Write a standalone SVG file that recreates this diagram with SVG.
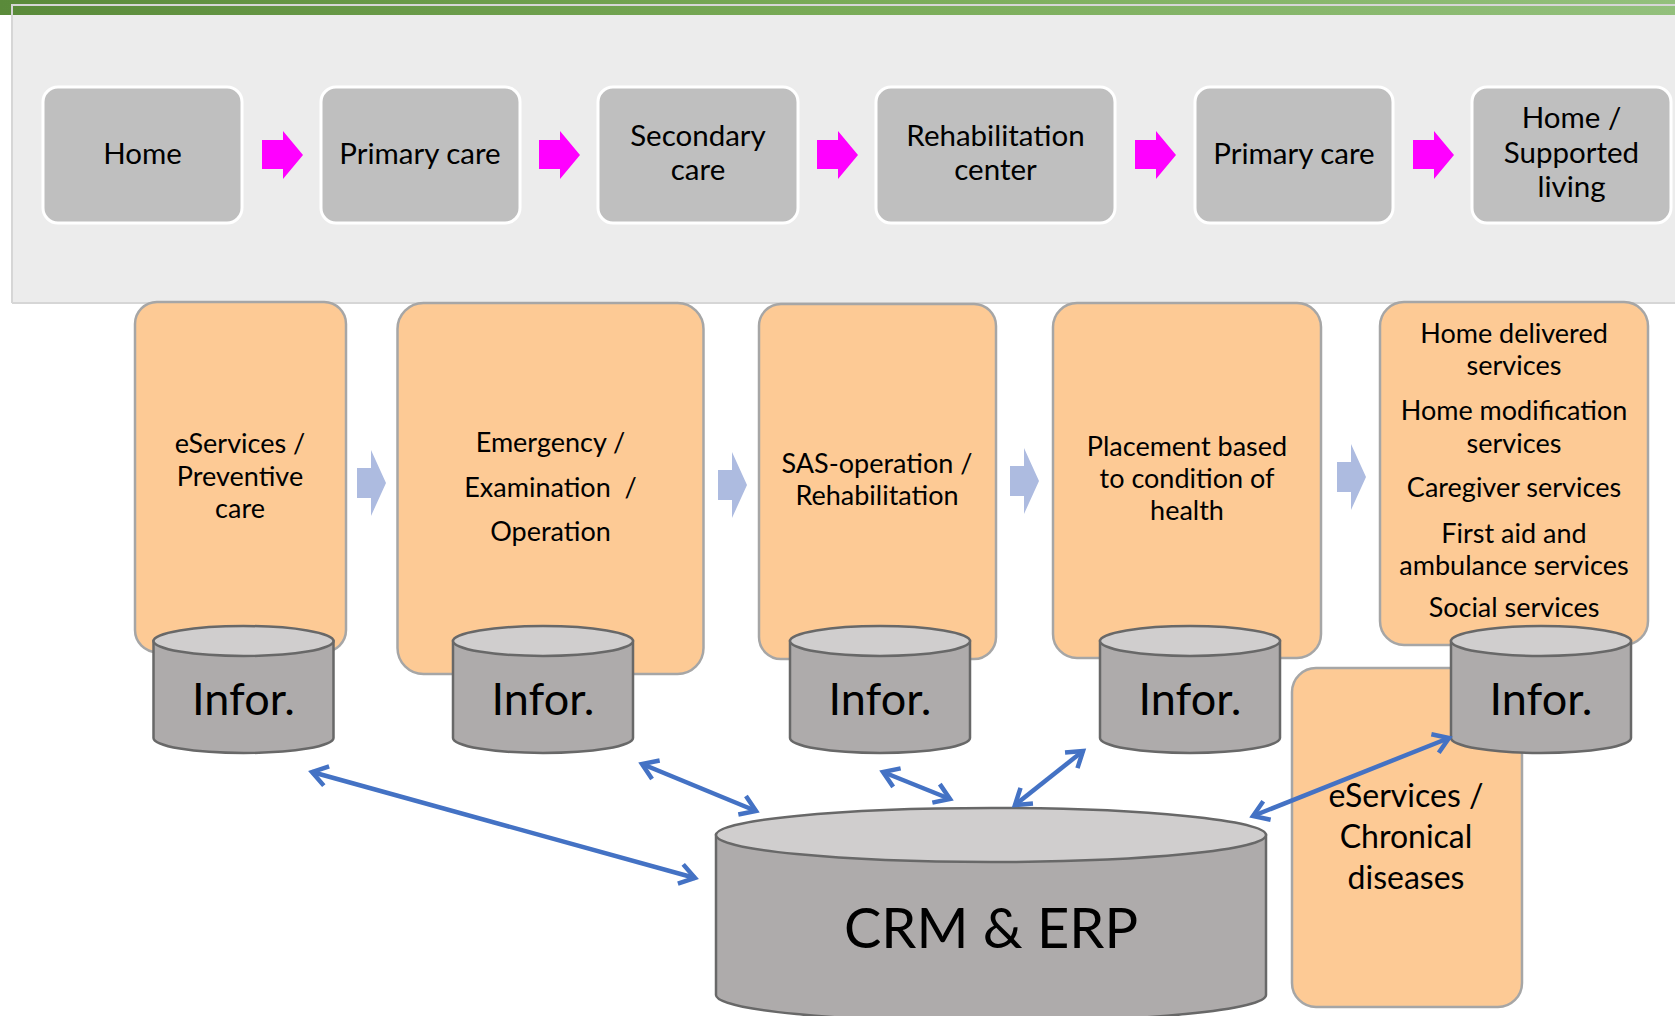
<svg xmlns="http://www.w3.org/2000/svg" xmlns:xlink="http://www.w3.org/1999/xlink" width="1675" height="1016" viewBox="0 0 1675 1016">
  <defs>
    <linearGradient id="band" x1="0" y1="0" x2="1" y2="0">
      <stop offset="0" stop-color="#5a8a3a"/>
      <stop offset="0.5" stop-color="#79ab57"/>
      <stop offset="1" stop-color="#93c07c"/>
    </linearGradient>
    <marker id="open" viewBox="0 0 26 26" markerWidth="26" markerHeight="26" refX="20" refY="13" orient="auto-start-reverse" markerUnits="userSpaceOnUse">
      <path d="M5,3 L20,13 L5,23" fill="none" stroke="#4472c4" stroke-width="4.5" stroke-linejoin="miter"/>
    </marker>
    <!-- small database cylinder, centred on x=0 -->
    <g id="cyl">
      <path class="cylBody" d="M-90,641 V738 A90,15 0 0 0 90,738 V641 Z"/>
      <ellipse class="cylTop" cx="0" cy="641" rx="90" ry="15"/>
    </g>
    <!-- step arrows -->
    <path id="stepArrow" d="M0,140 H21 V131 L41,155 L21,179 V169 H0 Z"/>
    <path id="flowArrow" d="M0,-15 H14 V-33 L29,0 L14,33 V15 H0 Z"/>
  </defs>
  <style>
    .txt { font-family: Lato, "Open Sans", "Liberation Sans", sans-serif; fill: #000; text-anchor: middle; }
    .stage rect { fill: #bfbfbf; stroke: #ffffff; stroke-width: 3; }
    .stage text { font-size: 29.5px; }
    .area rect { fill: #fdca95; stroke: #a6a6a6; stroke-width: 2.5; }
    .area text { font-size: 27px; }
    .cylBody { fill: #aeabab; stroke: #686868; stroke-width: 2.5; }
    .cylTop { fill: #d0cece; stroke: #686868; stroke-width: 2.5; }
    .db text { font-size: 45px; }
    .step { fill: #ff00ff; }
    .flow { fill: #adbbe0; }
    .link { fill: none; stroke: #4472c4; stroke-width: 4.5; marker-start: url(#open); marker-end: url(#open); }
  </style>

  <!-- header band and background panel -->
  <rect x="0" y="0" width="1675" height="15" fill="url(#band)"/>
  <rect x="12" y="15" width="1670" height="288" fill="#ececec"/>
  <path d="M12,303 V5 H1675 M12,303 H1675" fill="none" stroke="#d6d6d6" stroke-width="2"/>

  <!-- care path stages -->
  <g id="stage-home" class="stage">
    <rect x="43" y="87" width="199" height="136" rx="15"/>
    <text class="txt" x="142.5" y="164">Home</text>
  </g>
  <g id="stage-primary-1" class="stage">
    <rect x="321" y="87" width="199" height="136" rx="15"/>
    <text class="txt" x="420" y="164">Primary care</text>
  </g>
  <g id="stage-secondary" class="stage">
    <rect x="598" y="87" width="200" height="136" rx="15"/>
    <text class="txt" x="698" y="146">Secondary</text>
    <text class="txt" x="698" y="180">care</text>
  </g>
  <g id="stage-rehab" class="stage">
    <rect x="876" y="87" width="239" height="136" rx="15"/>
    <text class="txt" x="995.5" y="146">Rehabilitation</text>
    <text class="txt" x="995.5" y="180">center</text>
  </g>
  <g id="stage-primary-2" class="stage">
    <rect x="1195" y="87" width="198" height="136" rx="15"/>
    <text class="txt" x="1294" y="164">Primary care</text>
  </g>
  <g id="stage-home-supported" class="stage">
    <rect x="1472" y="87" width="199" height="136" rx="15"/>
    <text class="txt" x="1571.5" y="128">Home /</text>
    <text class="txt" x="1571.5" y="163">Supported</text>
    <text class="txt" x="1571.5" y="197">living</text>
  </g>

  <g id="step-arrows" class="step">
    <use href="#stepArrow" x="262"/>
    <use href="#stepArrow" x="539"/>
    <use href="#stepArrow" x="817"/>
    <use href="#stepArrow" x="1135"/>
    <use href="#stepArrow" x="1413"/>
  </g>

  <!-- service areas -->
  <g id="area-preventive" class="area">
    <rect x="135" y="302" width="211" height="350" rx="22"/>
    <text class="txt" x="240" y="453">eServices /</text>
    <text class="txt" x="240" y="485.5">Preventive</text>
    <text class="txt" x="240" y="518">care</text>
  </g>
  <g id="area-emergency" class="area">
    <rect x="397.5" y="303" width="306" height="371" rx="26"/>
    <text class="txt" x="550.5" y="452">Emergency /</text>
    <text class="txt" x="550.5" y="497" xml:space="preserve">Examination  /</text>
    <text class="txt" x="550.5" y="541">Operation</text>
  </g>
  <g id="area-rehab" class="area">
    <rect x="759" y="304" width="237" height="355" rx="22"/>
    <text class="txt" x="877" y="473">SAS-operation /</text>
    <text class="txt" x="877" y="505">Rehabilitation</text>
  </g>
  <g id="area-placement" class="area">
    <rect x="1053" y="303" width="268" height="355" rx="24"/>
    <text class="txt" x="1187" y="456">Placement based</text>
    <text class="txt" x="1187" y="488">to condition of</text>
    <text class="txt" x="1187" y="520">health</text>
  </g>
  <g id="area-home-services" class="area">
    <rect x="1380" y="302" width="268" height="343" rx="24"/>
    <text class="txt" x="1514" y="343">Home delivered</text>
    <text class="txt" x="1514" y="375">services</text>
    <text class="txt" x="1514" y="420">Home modification</text>
    <text class="txt" x="1514" y="453">services</text>
    <text class="txt" x="1514" y="497">Caregiver services</text>
    <text class="txt" x="1514" y="543">First aid and</text>
    <text class="txt" x="1514" y="575">ambulance services</text>
    <text class="txt" x="1514" y="617">Social services</text>
  </g>
  <g id="area-chronical" class="area">
    <rect x="1292" y="668" width="230" height="339" rx="24"/>
    <text class="txt" x="1406" y="807" style="font-size:32px">eServices /</text>
    <text class="txt" x="1406" y="848" style="font-size:32px">Chronical</text>
    <text class="txt" x="1406" y="889" style="font-size:32px">diseases</text>
  </g>

  <g id="flow-arrows" class="flow">
    <use href="#flowArrow" x="357" y="483"/>
    <use href="#flowArrow" x="718" y="485"/>
    <use href="#flowArrow" x="1010" y="481"/>
    <use href="#flowArrow" x="1337" y="477"/>
  </g>

  <!-- information stores -->
  <g id="db-1" class="db">
    <use href="#cyl" x="243.5"/>
    <text class="txt" x="243.5" y="715">Infor.</text>
  </g>
  <g id="db-2" class="db">
    <use href="#cyl" x="543"/>
    <text class="txt" x="543" y="715">Infor.</text>
  </g>
  <g id="db-3" class="db">
    <use href="#cyl" x="880"/>
    <text class="txt" x="880" y="715">Infor.</text>
  </g>
  <g id="db-4" class="db">
    <use href="#cyl" x="1190"/>
    <text class="txt" x="1190" y="715">Infor.</text>
  </g>
  <g id="db-5" class="db">
    <use href="#cyl" x="1541"/>
    <text class="txt" x="1541" y="715">Infor.</text>
  </g>

  <!-- central system -->
  <g id="db-crm-erp">
    <path class="cylBody" d="M716,835 V995 A275,27 0 0 0 1266,995 V835 Z"/>
    <ellipse class="cylTop" cx="991" cy="835" rx="275" ry="27"/>
    <text class="txt" x="991" y="948" style="font-size:56px">CRM &amp; ERP</text>
  </g>

  <!-- data exchange links -->
  <g id="links">
    <line class="link" x1="312" y1="772" x2="695" y2="878"/>
    <line class="link" x1="642" y1="764" x2="756" y2="811"/>
    <line class="link" x1="883" y1="772" x2="950" y2="799"/>
    <line class="link" x1="1015" y1="805" x2="1083" y2="751"/>
    <line class="link" x1="1253" y1="816" x2="1449" y2="738"/>
  </g>
</svg>
